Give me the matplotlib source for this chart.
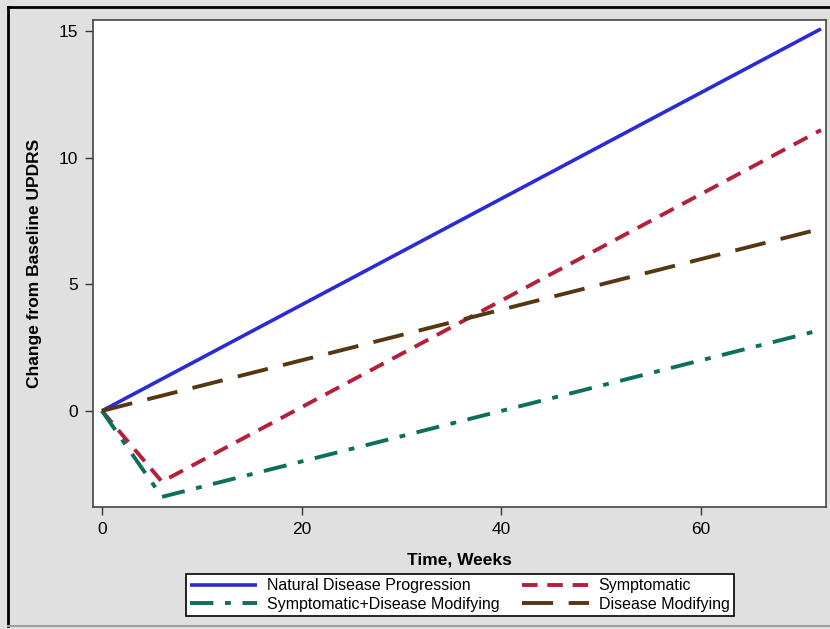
import matplotlib.pyplot as plt
from matplotlib.lines import Line2D

plt.rcParams['font.family'] = ['Liberation Sans', 'DejaVu Sans']

# Data
weeks_natural = [0, 72]
updrs_natural = [0, 15.1]

weeks_symptomatic = [0, 6, 72]
updrs_symptomatic = [0, -2.8, 11.1]

weeks_combined = [0, 6, 72]
updrs_combined = [0, -3.4, 3.2]

weeks_modifying = [0, 72]
updrs_modifying = [0, 7.2]

x_ticks = [0, 20, 40, 60]
y_ticks = [0, 5, 10, 15]

bg = '#e0e0e0'
fig = plt.figure(figsize=(8.3, 6.29), dpi=100, facecolor=bg)
ax = fig.add_axes([93 / 830, 1 - 507 / 629, (826 - 93) / 830, (507 - 20) / 629])
ax.set_facecolor('white')

# Outer frame (left and top dark, bottom light)
fig.add_artist(Line2D([8 / 830, 8 / 830], [1 - 7 / 629, 1 - 626 / 629], transform=fig.transFigure,
                      color='black', lw=2))
fig.add_artist(Line2D([8 / 830, 1], [1 - 7 / 629, 1 - 7 / 629], transform=fig.transFigure,
                      color='black', lw=2))
fig.add_artist(Line2D([8 / 830, 1], [1 - 626 / 629, 1 - 626 / 629], transform=fig.transFigure,
                      color='#a0a0a0', lw=1.5))

l1, = ax.plot(weeks_natural, updrs_natural, color='#2b2bd6', lw=2.6, solid_capstyle='butt')
l2, = ax.plot(weeks_symptomatic, updrs_symptomatic, color='#b51f3c', lw=2.8,
              dashes=(4, 2.5))
l3, = ax.plot(weeks_combined, updrs_combined, color='#0c6f5c', lw=2.8,
              dashes=(6, 3, 1.5, 3))
l4, = ax.plot(weeks_modifying, updrs_modifying, color='#573711', lw=2.8,
              dashes=(8, 4))

ax.set_xlim(-0.9, 72.5)
ax.set_ylim(-3.8, 15.45)
ax.set_xticks(x_ticks)
ax.set_yticks(y_ticks)
ax.tick_params(labelsize=12.5, length=6, width=1, colors='#333333', labelcolor='black', pad=5)
for s in ax.spines.values():
    s.set_color('#444444')
    s.set_linewidth(1.2)

ax.set_xlabel('Time, Weeks', fontsize=12.5, fontweight='bold', labelpad=11)
ax.set_ylabel('Change from Baseline UPDRS', fontsize=12.5, fontweight='bold', labelpad=12)

leg = fig.legend([l1, l3, l2, l4],
                 ['Natural Disease Progression', 'Symptomatic+Disease Modifying',
                  'Symptomatic', 'Disease Modifying'],
                 ncol=2, loc='center', bbox_to_anchor=(460 / 830, 1 - 595 / 629),
                 fontsize=11.5, frameon=True, fancybox=False, edgecolor='black',
                 facecolor='white', framealpha=1,
                 handlelength=4.2, handletextpad=0.6, columnspacing=1.4,
                 borderpad=0.25, labelspacing=0.2)
leg.get_frame().set_linewidth(1.2)

fig.savefig('out.png', dpi=100, facecolor=bg)
